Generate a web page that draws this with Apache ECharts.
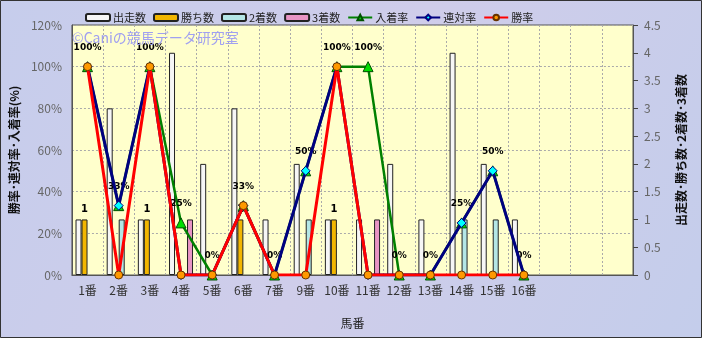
<!DOCTYPE html>
<html><head><meta charset="utf-8">
<script src="https://cdn.jsdelivr.net/npm/echarts@6/dist/echarts.min.js"></script>
<style>html,body{margin:0;padding:0;}#c{width:702px;height:338px;}</style>
</head><body><div id="c"></div>
<script>
const categories = ['1番','2番','3番','4番','5番','6番','7番','9番','10番','11番','12番','13番','14番','15番','16番',' ','  ','   '];
const runs      = [1,3,1,4,2,3,1,2,1,1,2,1,4,2,1];
const wins      = [1,0,1,0,0,1,0,0,1,0,0,0,0,0,0];
const seconds   = [0,1,0,0,0,0,0,1,0,0,0,0,1,1,0];
const thirds    = [0,0,0,1,0,0,0,0,0,1,0,0,0,0,0];
const placeRate = [100,33.3,100,25,0,33.3,0,50,100,100,0,0,25,50,0];
const rentaiRate= [100,33.3,100,0,0,33.3,0,50,100,0,0,0,25,50,0];
const winRate   = [100,0,100,0,0,33.3,0,0,100,0,0,0,0,0,0];
const leftTicks = {min:0,max:120,interval:20};
const rightTicks = {min:0,max:4.5,interval:0.5};

const nz = a => a.map(v => v === 0 ? null : v);
const chart = echarts.init(document.getElementById('c'));
const barBase = {type:'bar', yAxisIndex:1, barWidth:6, barGap:'0%'};
chart.setOption({
  animation:false,
  backgroundColor:{type:'linear',x:0,y:0,x2:1,y2:1,colorStops:[{offset:0,color:'#c6cdec'},{offset:0.5,color:'#cfcdea'},{offset:1,color:'#c4cdeb'}]},
  textStyle:{fontFamily:'"Noto Sans CJK JP", sans-serif'},
  graphic:[
    {type:'rect', shape:{x:0.5,y:0.5,width:701,height:337}, style:{fill:'none',stroke:'#333',lineWidth:1}, z:100},
    {type:'text', left:72, top:31, style:{text:'©Caniの競馬データ研究室', fill:'#a0a0f0', font:'14px "Noto Sans CJK JP", sans-serif'}, z:100}
  ],
  legend:{left:80, top:7, itemWidth:24, itemHeight:7, itemGap:7, textStyle:{fontSize:11, color:'#222', padding:[0,0,0,-2]},
    data:['出走数','勝ち数','2着数','3着数','入着率','連対率','勝率']},
  grid:{left:68, right:69, top:25, bottom:63, show:true, backgroundColor:'#ffffcc', borderColor:'#555', borderWidth:1},
  xAxis:{type:'category', data:categories, name:'馬番', nameLocation:'middle', nameGap:42,
    nameTextStyle:{fontSize:12, color:'#222'},
    axisLine:{lineStyle:{color:'#555'}}, axisTick:{show:false},
    axisLabel:{interval:0, margin:9, fontSize:12, color:'#333'},
    splitLine:{show:true, interval:0, lineStyle:{color:'#aaa', type:[2,2]}}},
  yAxis:[
    {type:'value', min:leftTicks.min, max:leftTicks.max, interval:leftTicks.interval,
      name:'勝率･連対率･入着率(%)', nameLocation:'middle', nameGap:44, nameRotate:90,
      nameTextStyle:{fontSize:12, fontWeight:'bold', color:'#111'},
      axisLine:{show:true, lineStyle:{color:'#555'}}, axisTick:{show:false},
      axisLabel:{formatter:'{value}%', fontSize:12, color:'#666', margin:10},
      splitLine:{show:true, lineStyle:{color:'#aaa', type:[2,2]}}},
    {type:'value', min:rightTicks.min, max:rightTicks.max, interval:rightTicks.interval, position:'right',
      name:'出走数･勝ち数･2着数･3着数', nameLocation:'middle', nameGap:42, nameRotate:90,
      nameTextStyle:{fontSize:12, fontWeight:'bold', color:'#111'},
      axisLine:{show:true, lineStyle:{color:'#555'}}, axisTick:{show:true, length:5, lineStyle:{color:'#444'}},
      axisLabel:{fontSize:12, color:'#666', margin:11},
      splitLine:{show:false}}
  ],
  series:[
    Object.assign({}, barBase, {name:'出走数', data:nz(runs), itemStyle:{color:'#f6f6f6', borderColor:'#222', borderWidth:1}}),
    Object.assign({}, barBase, {name:'勝ち数', data:nz(wins), itemStyle:{color:'#f2b600', borderColor:'#222', borderWidth:1},
      label:{show:true, position:'top', distance:5, fontSize:10, fontWeight:'bold', color:'#000', fontFamily:'DejaVu Sans'}}),
    Object.assign({}, barBase, {name:'2着数', data:nz(seconds), itemStyle:{color:'#b4e6e6', borderColor:'#222', borderWidth:1}}),
    Object.assign({}, barBase, {name:'3着数', data:nz(thirds), itemStyle:{color:'#e894c4', borderColor:'#222', borderWidth:1}}),
    {name:'入着率', type:'line', yAxisIndex:0, data:placeRate, symbol:'triangle', symbolSize:10,
      lineStyle:{color:'#008000', width:2.5}, itemStyle:{color:'#00dd00', borderColor:'#005000', borderWidth:1},
      label:{show:true, position:'top', distance:9, fontSize:9, fontWeight:'bold', color:'#000', fontFamily:'DejaVu Sans',
        formatter:p => Math.round(p.value) + '%'}, z:3},
    {name:'連対率', type:'line', yAxisIndex:0, data:rentaiRate, symbol:'diamond', symbolSize:9,
      lineStyle:{color:'#000080', width:3}, itemStyle:{color:'#00ffff', borderColor:'#000080', borderWidth:1}, z:4},
    {name:'勝率', type:'line', yAxisIndex:0, data:winRate, symbol:'circle', symbolSize:8,
      lineStyle:{color:'#ff0000', width:3}, itemStyle:{color:'#ff9900', borderColor:'#663300', borderWidth:1}, z:5}
  ]
});
</script></body></html>
